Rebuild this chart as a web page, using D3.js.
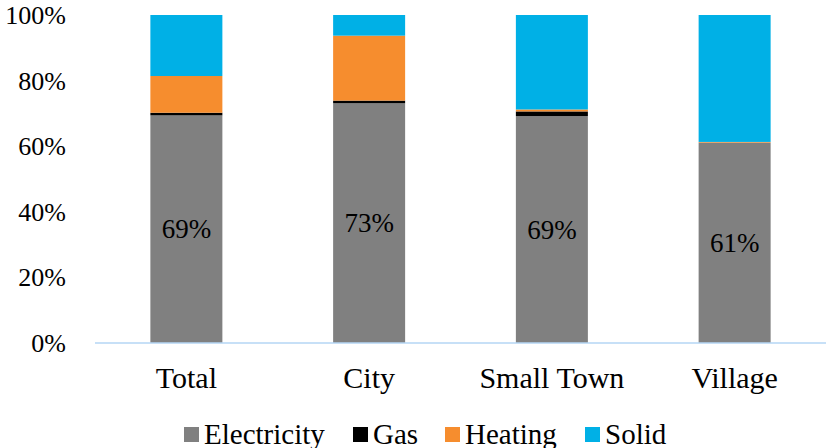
<!DOCTYPE html>
<html>
<head>
<meta charset="utf-8">
<script src="https://cdn.jsdelivr.net/npm/d3@7"></script>
<style>
  html, body { margin: 0; padding: 0; background: #fff; }
  svg { display: block; }
</style>
</head>
<body>
<svg id="chart" width="831" height="448"></svg>
<script>
// Share of households by main heating source (stacked to 100%)
const categories = ["Total", "City", "Small Town", "Village"];
const seriesNames = ["Electricity", "Gas", "Heating", "Solid"];
const electricity = [69.4, 73.1, 69.2, 61.1];
const gas = [0.8, 0.8, 1.4, 0.0];
const heating = [11.2, 19.8, 0.6, 0.2];
const solid = [18.6, 6.3, 28.8, 38.7];
const electricityLabels = ["69%", "73%", "69%", "61%"];
const yTicks = [0, 20, 40, 60, 80, 100];
const colors = ["#808080", "#000000", "#F68D2E", "#00B0E6"];

const FONT = '"Liberation Serif", Tinos, monospace';

const rows = categories.map((c, i) => ({
  category: c,
  Electricity: electricity[i],
  Gas: gas[i],
  Heating: heating[i],
  Solid: solid[i]
}));

const svg = d3.select("#chart").style("font-family", FONT);
const plot = { left: 95, right: 826, top: 15, bottom: 343 };

const x = d3.scaleBand()
  .domain(categories)
  .range([plot.left, plot.right])
  .paddingInner(0.606)
  .paddingOuter(0.303);

const y = d3.scaleLinear().domain([0, 100]).range([plot.bottom, plot.top]);

const stacked = d3.stack().keys(seriesNames)(rows);

// Y axis labels
svg.append("g").selectAll("text")
  .data(yTicks)
  .join("text")
  .attr("x", 66)
  .attr("y", d => y(d) + 9)
  .attr("text-anchor", "end")
  .style("font-family", FONT)
  .style("font-size", "26px")
  .text(d => d + "%");

// Stacked bars
svg.append("g").selectAll("g")
  .data(stacked)
  .join("g")
  .attr("fill", (d, i) => colors[i])
  .selectAll("rect")
  .data(d => d)
  .join("rect")
  .attr("x", d => x(d.data.category))
  .attr("width", x.bandwidth())
  .attr("y", d => y(d[1]))
  .attr("height", d => Math.max(0, y(d[0]) - y(d[1])));

// Category labels
svg.append("g").selectAll("text")
  .data(categories)
  .join("text")
  .attr("x", d => x(d) + x.bandwidth() / 2)
  .attr("y", 388)
  .attr("text-anchor", "middle")
  .style("font-family", FONT)
  .style("font-size", "30px")
  .text(d => d);

// Baseline
svg.append("line")
  .attr("x1", plot.left).attr("x2", plot.right)
  .attr("y1", plot.bottom).attr("y2", plot.bottom)
  .attr("stroke", "#B4D6F5").attr("stroke-width", 1.5);

// Electricity value labels, centred in the electricity segment
svg.append("g").selectAll("text")
  .data(stacked[0])
  .join("text")
  .attr("x", d => x(d.data.category) + x.bandwidth() / 2)
  .attr("y", d => (y(d[0]) + y(d[1])) / 2 + 9)
  .attr("text-anchor", "middle")
  .style("font-family", FONT)
  .style("font-size", "27px")
  .text((d, i) => electricityLabels[i]);

// Legend
const legendX = [184, 353, 445, 585];
const legend = svg.append("g").selectAll("g")
  .data(seriesNames)
  .join("g")
  .attr("transform", (d, i) => `translate(${legendX[i]},427)`);
legend.append("rect")
  .attr("width", 15).attr("height", 15)
  .attr("fill", (d, i) => colors[i]);
legend.append("text")
  .attr("x", 20)
  .attr("y", 17)
  .style("font-family", FONT)
  .style("font-size", "29px")
  .text(d => d);
</script>
</body>
</html>
